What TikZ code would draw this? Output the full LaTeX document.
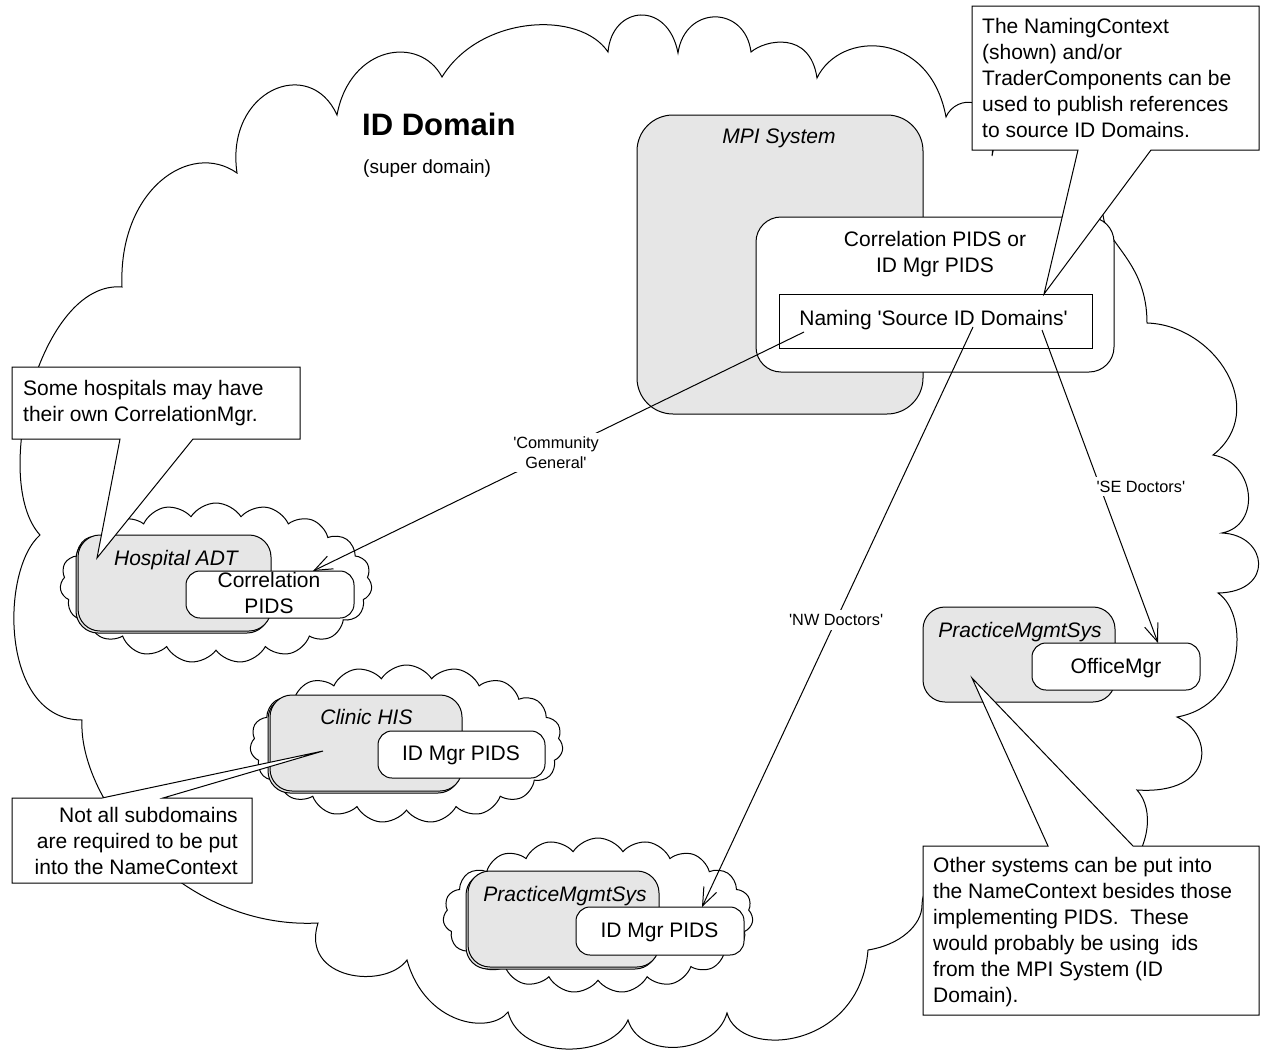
\documentclass[tikz,border=0pt]{standalone}
\usepackage{fontspec}
\setmainfont{Liberation Sans}[Ligatures=TeXOff]
\usetikzlibrary{shapes.symbols,arrows.meta,shadows}
\definecolor{boxgray}{RGB}{230,230,230}
\newcommand\bodyfont{\fontsize{21}{26}\selectfont}
\newcommand\tagfont{\fontsize{16.3}{19.5}\selectfont}
\begin{document}
\begin{tikzpicture}[x=1pt,y=-1pt,
  ink/.style={draw=black,line width=1pt},
  sysbox/.style={ink,fill=boxgray,rounded corners=#1,inner sep=0pt,outer sep=0pt},
  sysbox/.default=22pt,
  shadowed/.style={copy shadow={shadow xshift=-2pt,shadow yshift=-2pt}},
  compbox/.style={ink,fill=white,rounded corners=#1,inner sep=0pt,outer sep=0pt},
  compbox/.default=14pt,
  subcloud/.style={ink,fill=white,cloud,cloud puffs=19,cloud puff arc=115,
    cloud ignores aspect,inner sep=0pt,outer sep=0pt},
  txt/.style={inner sep=0pt,font=\bodyfont},
  title/.style={inner sep=0pt,font=\bodyfont\itshape},
  tag/.style={fill=white,inner sep=4pt,align=center,font=\tagfont},
  link/.style={ink,-{Straight Barb[length=18pt,width=14pt]}},
  balloon/.style={ink,fill=white,line join=miter}
]
\useasboundingbox (0,0) rectangle (1263,1052);

% outer ID domain cloud
\draw[ink] (122,287)
 .. controls (118,190) and (190,140) .. (237,173)
 .. controls (225,90) and (310,55) .. (337,115)
 .. controls (350,45) and (420,35) .. (442,77)
 .. controls (480,15) and (580,10) .. (608,52)
 .. controls (612,5) and (668,0) .. (678,53)
 .. controls (685,5) and (745,5) .. (751,52)
 .. controls (765,40) and (810,30) .. (817,78)
 .. controls (840,30) and (930,30) .. (946,117)
 .. controls (955,95) and (1000,90) .. (992,156)
 .. controls (1010,60) and (1095,120) .. (1103,215)
 .. controls (1106,245) and (1147,262) .. (1147,323)
 .. controls (1215,325) and (1270,410) .. (1213,455)
 .. controls (1255,462) and (1262,525) .. (1222,533)
 .. controls (1268,535) and (1275,592) .. (1218,593)
 .. controls (1250,615) and (1245,705) .. (1177,717)
 .. controls (1215,735) and (1215,795) .. (1137,790)
 .. controls (1155,810) and (1150,850) .. (1120,880)
 -- (960,880)
 .. controls (930,880) and (922,890) .. (922,905)
 .. controls (922,925) and (900,945) .. (868,950)
 .. controls (860,1050) and (740,1060) .. (727,1013)
 .. controls (715,1055) and (640,1060) .. (628,1020)
 .. controls (610,1060) and (520,1060) .. (508,1012)
 .. controls (490,1035) and (425,1025) .. (407,960)
 .. controls (385,990) and (300,980) .. (318,923)
 .. controls (180,930) and (78,800) .. (82,720)
 .. controls (0,720) and (0,570) .. (40,535)
 .. controls (-10,480) and (40,280) .. (122,287) -- cycle;

\node[inner sep=0pt,anchor=base west,font=\fontsize{31}{36}\selectfont\bfseries] (domTitle) at (362,135) {ID Domain};
\node[inner sep=0pt,anchor=base west,font=\fontsize{19}{23}\selectfont] (domSub) at (363,173) {(super domain)};

% MPI system with its PIDS component
\node[sysbox=36pt,minimum width=286pt,minimum height=299pt] (mpi) at (780,264.5) {};
\node[title,anchor=base] (mpiT) at (779,143) {MPI System};
\node[compbox=25pt,minimum width=358pt,minimum height=155pt] (corr) at (935,294.5) {};
\node[txt,anchor=base,align=center] (corrT) at (935,272) {Correlation PIDS or\\ID Mgr PIDS};
\node[ink,fill=white,inner sep=0pt,minimum width=313pt,minimum height=54pt] (naming) at (935.5,321) {};
\node[txt,anchor=base] (namingT) at (933.5,325) {Naming 'Source ID Domains'};

% hospital subdomain
\node[subcloud,minimum width=312pt,minimum height=160pt] (hcloud) at (216,583) {};
\node[sysbox,shadowed,minimum width=193pt,minimum height=96pt] (hadt) at (174.5,583) {};
\node[title,anchor=base] (hadtT) at (176,565) {Hospital ADT};
\node[compbox,minimum width=168pt,minimum height=47pt] (hpids) at (270,594.5) {};
\node[txt,anchor=base,align=center] (hpidsT) at (269,613) {Correlation\\PIDS};

% clinic subdomain
\node[subcloud,minimum width=313pt,minimum height=158pt] (ccloud) at (406.5,744) {};
\node[sysbox,shadowed,minimum width=192pt,minimum height=96pt] (clinic) at (366,743) {};
\node[title,anchor=base] (clinicT) at (366.5,724) {Clinic HIS};
\node[compbox,minimum width=167pt,minimum height=47pt] (cpids) at (461.5,754.5) {};
\node[txt,anchor=base] (cpidsT) at (461,760) {ID Mgr PIDS};

% practice subdomain (NW)
\node[subcloud,minimum width=310pt,minimum height=155pt] (pcloud) at (598,915.5) {};
\node[sysbox,shadowed,minimum width=191pt,minimum height=96pt] (pms) at (563.5,919) {};
\node[title,anchor=base] (pmsT) at (565,901) {PracticeMgmtSys};
\node[compbox,minimum width=168pt,minimum height=48pt] (ppids) at (660,931) {};
\node[txt,anchor=base] (ppidsT) at (659.5,937) {ID Mgr PIDS};

% practice system (SE)
\node[sysbox,minimum width=192pt,minimum height=95pt] (pmse) at (1019,654.5) {};
\node[title,anchor=base] (pmseT) at (1020,637) {PracticeMgmtSys};
\node[compbox,minimum width=168pt,minimum height=47pt] (office) at (1116,666.5) {};
\node[txt,anchor=base] (officeT) at (1116,673) {OfficeMgr};

% name bindings published by the naming context
\coordinate (cgFrom) at (804,332);
\coordinate (cgTo) at (313,571);
\coordinate (nwFrom) at (973,327);
\coordinate (nwTo) at (702,907);
\coordinate (seFrom) at (1042,330);
\coordinate (seTo) at (1158,643);
\draw[link] (cgFrom) -- node[tag,pos=0.505] (cgTag) {'Community\\General'} (cgTo);
\draw[link] (nwFrom) -- node[tag,pos=0.505] (nwTag) {'NW Doctors'} (nwTo);
\draw[link] (seFrom) -- node[tag,pos=0.5,anchor=west,xshift=-8pt] (seTag) {'SE Doctors'} (seTo);

% callouts
\coordinate (tipNaming) at (1044,294);
\draw[balloon] (972,6) -- (1259,6) -- (1259,150) -- (1151,150) -- (tipNaming)
  -- (1078,150) -- (972,150) -- cycle;
\node[txt,anchor=base west,align=left] (noteNaming) at (982,137)
  {The NamingContext\\(shown) and/or\\TraderComponents can be\\used to publish references\\to source ID Domains.};

\coordinate (tipHosp) at (97,558);
\draw[balloon] (12,367) -- (300,367) -- (300,439) -- (193,439) -- (tipHosp)
  -- (120,439) -- (12,439) -- cycle;
\node[txt,anchor=base west,align=left] (noteHosp) at (23,421)
  {Some hospitals may have\\their own CorrelationMgr.};

\coordinate (tipClinic) at (323,751);
\draw[balloon] (12,798) -- (102,798) -- (tipClinic) -- (163,798) -- (252,798)
  -- (252,883) -- (12,883) -- cycle;
\node[txt,anchor=base east,align=right] (noteClinic) at (238,874)
  {Not all subdomains\\are required to be put\\into the NameContext};

\coordinate (tipPractice) at (972,678);
\draw[balloon] (923,846) -- (1048,846) -- (tipPractice) -- (1133,846) -- (1259,846)
  -- (1259,1015) -- (923,1015) -- cycle;
\node[txt,anchor=base west,align=left] (notePractice) at (933,1002)
  {Other systems can be put into\\the NameContext besides those\\implementing PIDS.\ \ These\\would probably be using\ \ ids\\from the MPI System (ID\\Domain).};
\end{tikzpicture}
\end{document}
